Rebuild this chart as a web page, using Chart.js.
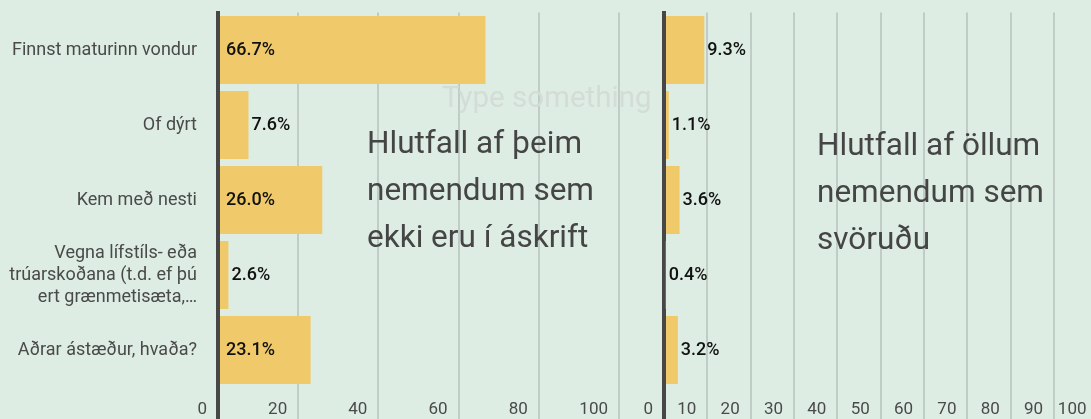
<!DOCTYPE html>
<html>
<head>
<meta charset="utf-8">
<script src="https://cdn.jsdelivr.net/npm/chart.js@4/dist/chart.umd.min.js"></script>
<style>
  html, body { margin: 0; padding: 0; }
  body {
    width: 1091px; height: 419px; overflow: hidden; position: relative;
    background: #ddede3; font-family: Roboto, "Noto Sans", sans-serif;
  }
  canvas { position: absolute; top: 0; }
  #leftChart { left: 0; }
  #rightChart { left: 640px; }
  .note { position: absolute; color: #454545; font-size: 31.5px; line-height: 47px; white-space: nowrap; }
  .ghost { position: absolute; color: #d3dcd7; font-size: 29.5px; line-height: 34px; white-space: nowrap; left: 442px; top: 80px; }
</style>
</head>
<body>
<canvas id="leftChart" width="640" height="419"></canvas>
<canvas id="rightChart" width="460" height="419"></canvas>
<div class="ghost">Type something</div>
<div class="note" style="left:367px; top:119px;">Hlutfall af þeim<br>nemendum sem<br>ekki eru í áskrift</div>
<div class="note" style="left:817px; top:121px;">Hlutfall af öllum<br>nemendum sem<br>svöruðu</div>

<script>
// ---- data ----
const categories = [
  'Finnst maturinn vondur',
  'Of dýrt',
  'Kem með nesti',
  ['Vegna lífstíls- eða', 'trúarskoðana (t.d. ef þú', 'ert grænmetisæta,…'],
  'Aðrar ástæður, hvaða?'
];
const notSubscribedPct = [66.7, 7.6, 26.0, 2.6, 23.1];   // left chart
const allRespondentsPct = [9.3, 1.1, 3.6, 0.4, 3.2];     // right chart
const leftTicks = [0, 20, 40, 60, 80, 100];
const rightTicks = [0, 10, 20, 30, 40, 50, 60, 70, 80, 90, 100];

const BAR = '#f0ca6a';
const GRID = '#bfcdc6';
const AXIS = '#474747';
const TEXT = '#4a4a4a';

// value labels: inside at bar start if it fits, else just past the bar end
const valueLabels = {
  id: 'valueLabels',
  afterDatasetsDraw(chart) {
    const ctx = chart.ctx;
    const data = chart.data.datasets[0].data;
    ctx.save();
    ctx.font = '500 18px Roboto';
    ctx.fillStyle = '#111';
    ctx.textBaseline = 'middle';
    ctx.textAlign = 'left';
    chart.getDatasetMeta(0).data.forEach((bar, i) => {
      const txt = data[i].toFixed(1) + '%';
      const tw = ctx.measureText(txt).width;
      const w = bar.x - bar.base;
      const x = w > tw + 12 ? bar.base + 6 : bar.x + 3;
      ctx.fillText(txt, x, bar.y);
    });
    ctx.restore();
  }
};

function makeChart(id, values, ticks, yWidth, showCats, padRight) {
  return new Chart(document.getElementById(id), {
    type: 'bar',
    data: {
      labels: categories,
      datasets: [{
        data: values,
        backgroundColor: BAR,
        borderWidth: 0,
        categoryPercentage: 1,
        barPercentage: 0.907
      }]
    },
    options: {
      indexAxis: 'y',
      responsive: false,
      animation: false,
      layout: { padding: { top: 12.5, right: padRight, left: 0, bottom: 0 } },
      plugins: { legend: { display: false }, tooltip: { enabled: false } },
      scales: {
        x: {
          min: 0,
          max: 100,
          afterBuildTicks: (s) => { s.ticks = ticks.map(v => ({ value: v })); },
          afterFit: (s) => { s.height = 31.5; s.paddingLeft = 0; s.paddingRight = 0; },
          grid: {
            color: (c) => c.tick && c.tick.value === 0 ? AXIS : GRID,
            lineWidth: (c) => c.tick && c.tick.value === 0 ? 4 : 2,
            tickLength: 32,
            drawTicks: true
          },
          border: { display: false },
          ticks: {
            align: 'end',
            labelOffset: -11,
            padding: -20,
            maxRotation: 0,
            autoSkip: false,
            color: TEXT,
            font: { family: 'Roboto', size: 17 }
          }
        },
        y: {
          z: 1,
          afterFit: (s) => { s.width = yWidth; s.paddingTop = 0; s.paddingBottom = 0; },
          grid: { display: false, drawTicks: false },
          border: { display: true, color: AXIS, width: 4 },
          ticks: {
            display: showCats,
            padding: 21,
            color: TEXT,
            font: { family: 'Roboto', size: 18, lineHeight: 22 / 18 }
          }
        }
      }
    },
    plugins: [valueLabels]
  });
}

makeChart('leftChart', notSubscribedPct, leftTicks, 218, true, 21);
makeChart('rightChart', allRespondentsPct, rightTicks, 24, false, 2.5);
</script>
</body>
</html>
